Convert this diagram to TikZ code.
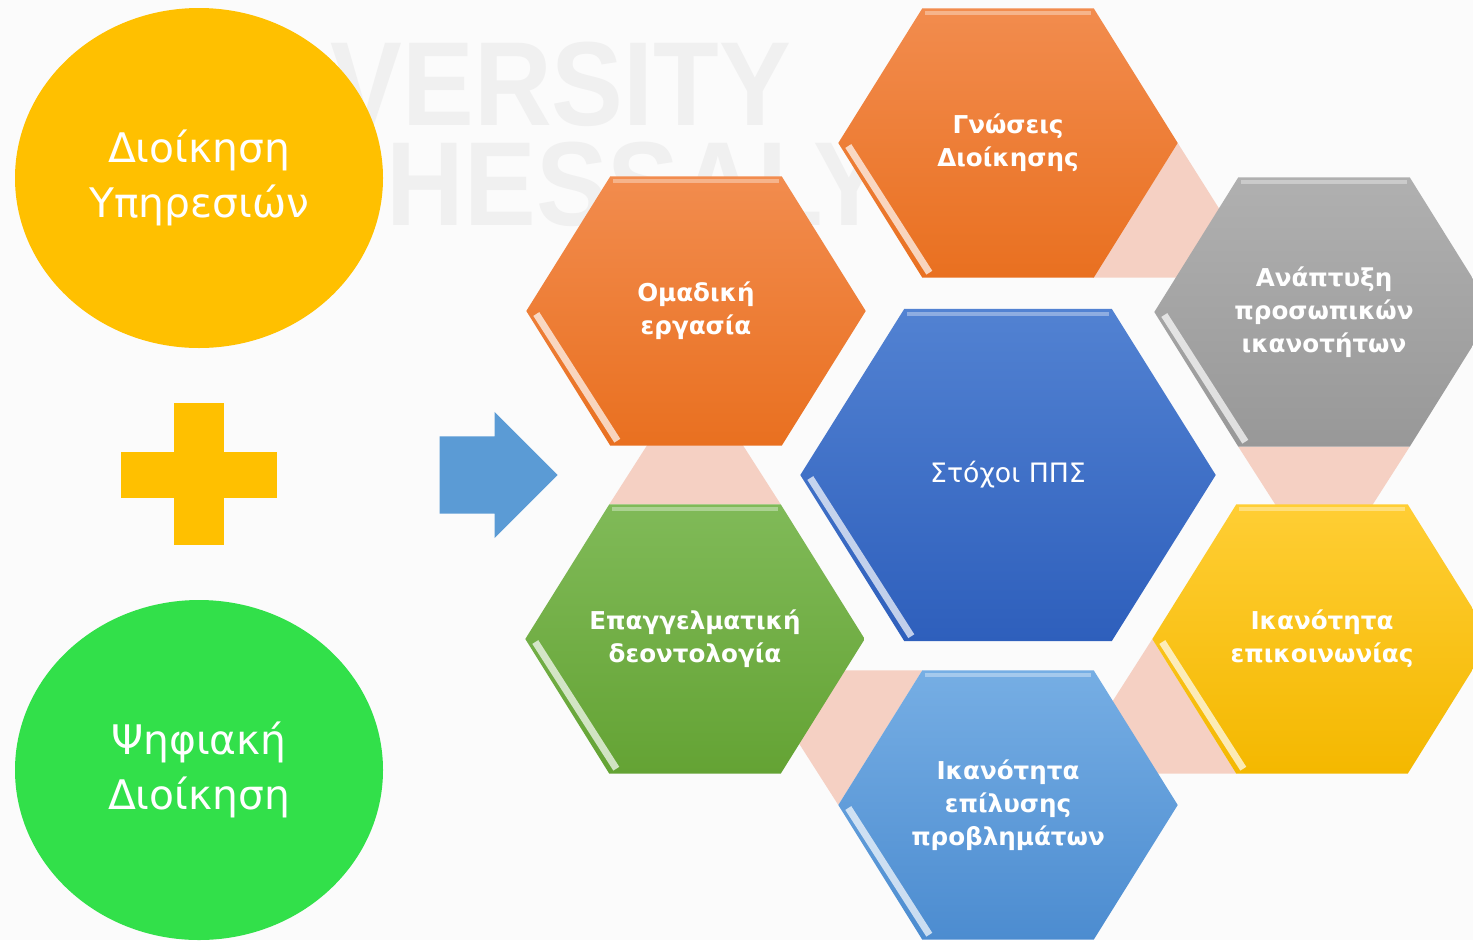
\documentclass[tikz,border=0pt]{standalone}
\usepackage{fontspec}
\setmainfont{DejaVu Sans}
\newfontfamily\markfont[FakeStretch=0.9]{Liberation Sans}
\usetikzlibrary{shapes.geometric, shapes.arrows, calc, backgrounds}

\definecolor{ochre}{RGB}{255,192,0}
\definecolor{lime}{RGB}{50,224,74}
\definecolor{arrowblue}{RGB}{91,155,213}
\definecolor{linkpink}{RGB}{245,208,195}
\definecolor{orangetop}{RGB}{242,140,78}
\definecolor{orangebot}{RGB}{233,112,32}
\definecolor{graytop}{RGB}{176,176,176}
\definecolor{graybot}{RGB}{152,152,152}
\definecolor{bluetop}{RGB}{82,130,210}
\definecolor{bluebot}{RGB}{46,95,188}
\definecolor{greentop}{RGB}{128,186,88}
\definecolor{greenbot}{RGB}{100,163,52}
\definecolor{yellowtop}{RGB}{255,206,52}
\definecolor{yellowbot}{RGB}{244,184,0}
\definecolor{skytop}{RGB}{118,174,228}
\definecolor{skybot}{RGB}{76,140,208}

\begin{document}
\begin{tikzpicture}[
    bubble/.style={ellipse, minimum width=3.68cm, minimum height=3.4cm, inner sep=0pt, text=white, align=center, font=\fontsize{11.6}{15.6}\selectfont},
    plusbar/.style={rectangle, fill=ochre, inner sep=0pt},
    cell/.style={rectangle, minimum width=3.38cm, minimum height=2.68cm, inner sep=0pt, text=white, align=center, font=\bfseries\fontsize{7}{9.4}\selectfont},
    hub/.style={cell, minimum width=4.14cm, minimum height=3.31cm, font=\fontsize{7.6}{9.4}\selectfont},
    link/.style={fill=linkpink},
    watermark/.style={anchor=base west, inner sep=0pt, text height=0.84cm, text depth=0pt, text=black!6, font=\markfont\bfseries\fontsize{34}{34}\selectfont},
]
\useasboundingbox (0,0) rectangle (14.73,9.40);
\clip (0,0) rectangle (14.73,9.40);

% two fields
\node[bubble, fill=ochre] (services) at (1.99,7.62) {Διοίκηση\\Υπηρεσιών};
\node[plusbar, minimum width=1.56cm, minimum height=0.46cm] (plush) at (1.99,4.65) {};
\node[plusbar, minimum width=0.50cm, minimum height=1.42cm] (plusv) at (1.99,4.66) {};
\node[bubble, fill=lime] (digital) at (1.99,1.70) {Ψηφιακή\\Διοίκηση};

\node[single arrow, fill=arrowblue, inner xsep=0pt, inner ysep=0.38cm, minimum height=1.18cm,
      single arrow head extend=0.245cm, anchor=tail] (leads) at (4.39,4.65) {};

% hexagon cluster
\node[cell] (gnosis) at (10.08,7.97) {Γνώσεις\\Διοίκησης};
\node[cell] (team) at (6.96,6.29) {Ομαδική\\εργασία};
\node[cell] (growth) at (13.24,6.28) {Ανάπτυξη\\προσωπικών\\ικανοτήτων};
\node[hub] (goals) at (10.08,4.65) {Στόχοι ΠΠΣ};
\node[cell] (ethics) at (6.95,3.01) {Επαγγελματική\\δεοντολογία};
\node[cell] (talk) at (13.22,3.01) {Ικανότητα\\επικοινωνίας};
\node[cell] (solve) at (10.08,1.35) {Ικανότητα\\επίλυσης\\προβλημάτων};

\begin{scope}[on background layer]
  \fill[gray!3] (0,0) rectangle (14.73,9.40);
  \node[watermark] (versity) at (3.30,8.15) {VERSITY};
  \node[watermark] (hessaly) at (3.86,7.15) {HESSALY};

  % links between the cells
  \fill[link] (gnosis.east) -- ($(gnosis.south east)+(-0.85,0)$) -- ($(gnosis.south east)+(0.85,0)$) -- cycle;
  \fill[link] ($(ethics.north west)+(0.84,0)$) -- ($(ethics.north east)+(-0.84,0)$) -- ($(ethics.north)+(0,1.34)$) -- cycle;
  \fill[link] ($(growth.south west)+(0.84,0)$) -- ($(growth.south east)+(-0.84,0)$) -- ($(growth.south)+(0,-1.34)$) -- cycle;
  \fill[link] (solve.west) -- ($(solve.north west)+(0.84,0)$) -- ($(solve.north west)+(-0.86,0)$) -- cycle;
  \fill[link] (talk.west) -- ($(talk.south west)+(0.84,0)$) -- ($(talk.south west)+(-0.86,0)$) -- cycle;

  % hexagons behind the labels
  \foreach \n/\col/\o in {gnosis/orange/0.84, team/orange/0.84, growth/gray/0.84, goals/blue/1.04,
                          ethics/green/0.84, talk/yellow/0.84, solve/sky/0.84} {
    \shade[top color=\col top, bottom color=\col bot]
      (\n.west) -- ($(\n.north west)+(\o,0)$) -- ($(\n.north east)+(-\o,0)$) -- (\n.east)
      -- ($(\n.south east)+(-\o,0)$) -- ($(\n.south west)+(\o,0)$) -- cycle;
    \draw[white, opacity=0.7, line width=2pt] ($(\n.west)+(0.10,-0.03)$) -- ($(\n.south west)+(\o+0.07,0.05)$);
    \draw[white, opacity=0.35, line width=1.2pt] ($(\n.north west)+(\o+0.03,-0.05)$) -- ($(\n.north east)+(-\o-0.03,-0.05)$);
  }
\end{scope}

\end{tikzpicture}
\end{document}
